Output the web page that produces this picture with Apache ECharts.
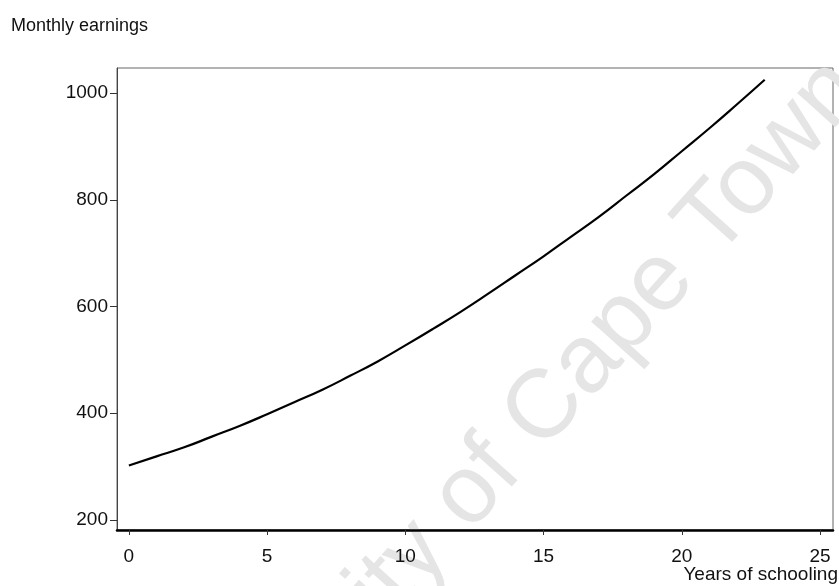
<!DOCTYPE html>
<html>
<head>
<meta charset="utf-8">
<script src="https://cdn.jsdelivr.net/npm/echarts@6/dist/echarts.min.js"></script>
<style>html,body{margin:0;padding:0;background:#fff}#c{width:839px;height:586px}</style>
</head>
<body>
<div id="c"></div>
<script>
// Data
var years = [0,1,2,3,4,5,6,7,8,9,10,11,12,13,14,15,16,17,18,19,20,21,22,23];
var earnings = [302,319,336,356,376,398,421,444,470,497,527,558,590,624,659,694,731,768,808,848,891,934,979,1025];
var xTicks = [0,5,10,15,20,25];
var yTicks = [200,400,600,800,1000];
var yTitle = 'Monthly earnings';
var xTitle = 'Years of schooling';
var watermark = 'University of Cape Town';

var FONT = '"Liberation Sans", Arial, sans-serif';
var chart = echarts.init(document.getElementById('c'), null, {renderer: 'canvas'});
var pts = years.map(function (y, i) { return [y, earnings[i]]; });

chart.setOption({
  animation: false,
  backgroundColor: '#fff',
  grid: {left: 117, right: 6, top: 68, bottom: 56, show: true, borderColor: '#666', borderWidth: 1, backgroundColor: 'transparent'},
  xAxis: {
    type: 'value', min: -0.43, max: 25.47,
    axisLine: {show: true, onZero: false, lineStyle: {color: '#000', width: 2.5}},
    axisTick: {show: true, customValues: xTicks, length: 5, lineStyle: {color: '#333', width: 1}},
    axisLabel: {customValues: xTicks, margin: 17, color: '#111', fontFamily: FONT, fontSize: 19,
                formatter: function (v) { return String(v); }},
    splitLine: {show: false}
  },
  yAxis: {
    type: 'value', min: 181, max: 1047,
    axisLine: {show: true, onZero: false, lineStyle: {color: '#444', width: 1}},
    axisTick: {show: true, customValues: yTicks, length: 7, lineStyle: {color: '#333', width: 1}},
    axisLabel: {customValues: yTicks, margin: 9, color: '#111', fontFamily: FONT, fontSize: 19,
                formatter: function (v) { return String(v); }},
    splitLine: {show: false}
  },
  graphic: [
    {type: 'text', silent: true, z: 0, x: 497, y: 463, rotation: 48 * Math.PI / 180,
     style: {text: watermark, fill: '#e5e5e5', font: '97px ' + FONT, textAlign: 'center', textVerticalAlign: 'middle'}},
    {type: 'text', silent: true, z: 10, x: 11, y: 26,
     style: {text: yTitle, fill: '#111', font: '18px ' + FONT, textAlign: 'left', textVerticalAlign: 'middle'}},
    {type: 'text', silent: true, z: 10, x: 838, y: 584,
     style: {text: xTitle, fill: '#111', font: '19px ' + FONT, textAlign: 'right', textVerticalAlign: 'bottom'}}
  ],
  series: [{
    type: 'line', data: pts, smooth: true, showSymbol: false, symbol: 'none', z: 5,
    lineStyle: {color: '#000', width: 2.2}
  }]
});
</script>
</body>
</html>
